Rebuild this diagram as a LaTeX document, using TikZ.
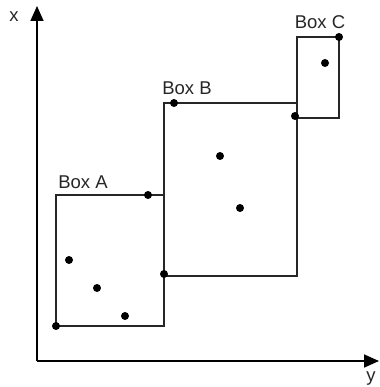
\documentclass[tikz,border=0pt]{standalone}
\usepackage{fontspec}
\setmainfont{Liberation Sans}
\usetikzlibrary{arrows.meta}
\begin{document}
\begin{tikzpicture}[x=1pt,y=-1pt,
  axis/.style={line width=1.7pt,-{Triangle[length=15pt,width=13pt]}},
  boxline/.style={draw=black!85,line width=1.4pt},
  pt/.style={circle,fill=black,inner sep=0pt,minimum size=8pt},
  lbl/.style={font=\fontsize{18.5}{21}\selectfont,text=black!85,inner sep=0pt}]
\useasboundingbox (0,0) rectangle (379,387);
% axes
\coordinate (O) at (37,361);
\coordinate (Xtip) at (37,6);
\coordinate (Ytip) at (379,361);
\draw[axis] (O) -- (Xtip);
\draw[axis] (O) -- (Ytip);
\node[lbl] (xl) at (14,17) {x};
\node[lbl] (yl) at (371,379) {y};
% boxes
\draw[boxline] (56,195) rectangle (164,326);
\draw[boxline] (164,103) rectangle (297,276);
\draw[boxline] (297,37) rectangle (339,118);
\node[lbl] (la) at (83,182) {Box A};
\node[lbl] (lb) at (187,88) {Box B};
\node[lbl] (lc) at (320,22) {Box C};
% box A points
\node[pt] (a1) at (148,195) {};
\node[pt] (a2) at (69,260) {};
\node[pt] (a3) at (97,288) {};
\node[pt] (a4) at (125,316) {};
\node[pt] (a5) at (56,326) {};
\node[pt] (a6) at (164,274) {};
% box B points
\node[pt] (b1) at (174,103) {};
\node[pt] (b2) at (220,156) {};
\node[pt] (b3) at (240,208) {};
\node[pt] (b4) at (295,116) {};
% box C points
\node[pt] (c1) at (339,37) {};
\node[pt] (c2) at (325,63) {};
\end{tikzpicture}
\end{document}
